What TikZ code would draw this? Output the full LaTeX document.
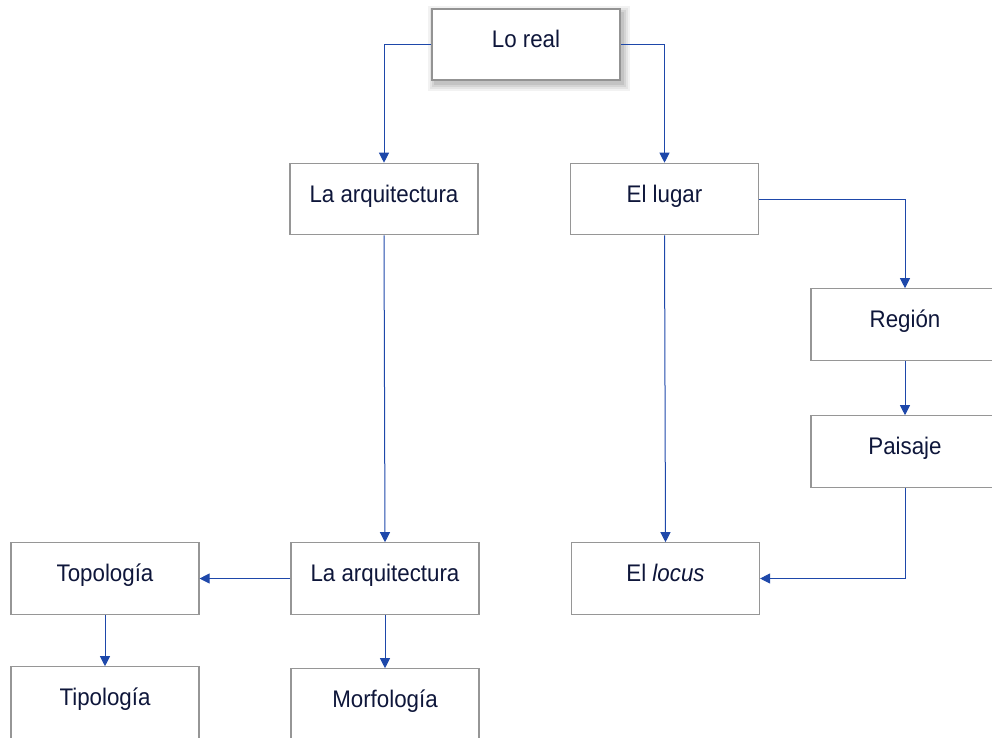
\documentclass[tikz,border=0pt]{standalone}
\usepackage{fontspec}
\setmainfont[FakeStretch=0.93]{Liberation Sans}
\usetikzlibrary{arrows.meta}
\definecolor{txt}{RGB}{14,22,58}
\definecolor{lnk}{RGB}{30,72,170}
\definecolor{brd}{RGB}{150,150,150}
\begin{document}
\begin{tikzpicture}[x=1pt,y=-1pt,
  box/.style={draw=brd,line width=1.1pt,fill=white,minimum width=188pt,minimum height=71.5pt,
    inner sep=0pt,text=txt,font=\fontsize{24}{28}\selectfont,text height=16pt,text depth=10pt},
  lnkline/.style={draw=lnk,line width=1pt},
  arr/.style={lnkline,-{Triangle[width=10pt,length=10pt]}}]
\useasboundingbox (0,0) rectangle (992,737);
\begin{scope}
\clip (0,0) rectangle (992,737);
% soft shadow for Lo real
\foreach \s/\o in {7/0.05,5/0.06,3/0.07,1/0.08}{
  \fill[black,opacity=\o] (432-\s+3,9-\s+4) rectangle (620+\s+3,80+\s+4);
}
\node[box,line width=2pt,draw=gray!85] (real) at (526,44.5) {Lo real};
\node[box] (arqa) at (384,199) {La arquitectura};
\node[box] (lugar) at (664.5,199) {El lugar};
\node[box] (region) at (905,324.5) {Región};
\node[box] (paisaje) at (905,451.5) {Paisaje};
\node[box] (topo) at (105,578.5) {Topología};
\node[box] (arqb) at (385,578.5) {La arquitectura};
\node[box] (locus) at (665.5,578.5) {El \textit{locus}};
\node[box] (tipo) at (105,702.5) {Tipología};
\node[box] (morfo) at (385,704.5) {Morfología};
\draw[arr] (real.west) -| (arqa.north);
\draw[arr] (real.east) -| (lugar.north);
\draw[arr] (lugar.east) -| (region.north);
\draw[arr] (region.south) -- (paisaje.north);
\draw[arr] (paisaje.south) |- (locus.east);
\draw[arr] (arqa.south) -- (arqb.north);
\draw[arr] (lugar.south) -- (locus.north);
\draw[arr] (arqb.west) -- (topo.east);
\draw[arr] (topo.south) -- (tipo.north);
\draw[arr] (arqb.south) -- (morfo.north);
\end{scope}
\end{tikzpicture}
\end{document}
